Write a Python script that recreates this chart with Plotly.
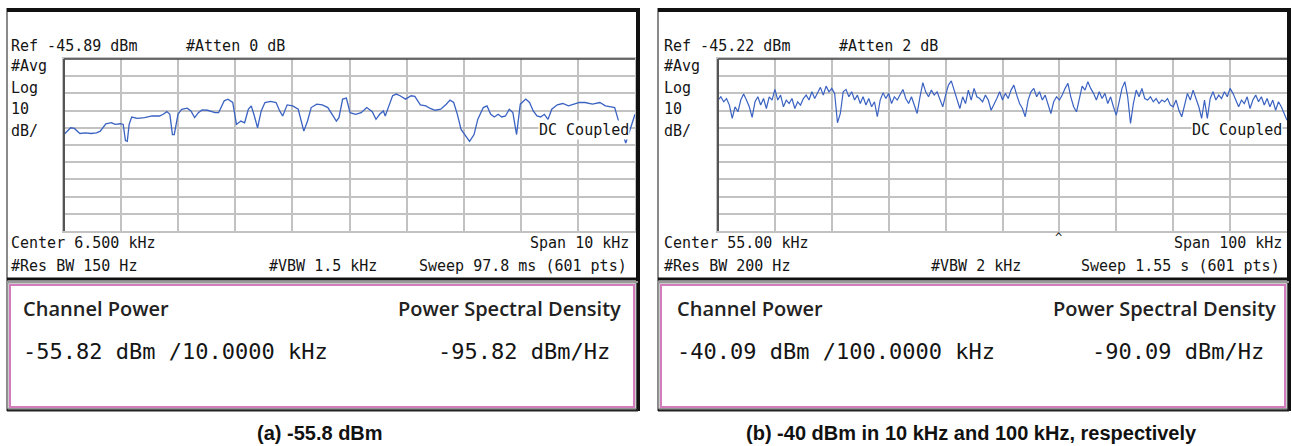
import numpy as np
import plotly.graph_objects as go

W, H = 1291, 446

# ---------------- Panel (a) data: 10 kHz span, centre 6.5 kHz ----------------
ref_a = -45.89
freq_a = [1.500, 1.617, 1.681, 1.779, 1.876, 1.973, 2.070, 2.135, 2.232, 2.330,
          2.394, 2.492, 2.537, 2.576, 2.608, 2.641, 2.686, 2.783, 2.913, 3.043,
          3.172, 3.237, 3.302, 3.354, 3.399, 3.431, 3.496, 3.561, 3.658, 3.723,
          3.788, 3.853, 3.917, 4.015, 4.144, 4.209, 4.306, 4.371, 4.455, 4.520,
          4.598, 4.663, 4.728, 4.779, 4.825, 4.890, 4.954, 5.019, 5.117, 5.214,
          5.278, 5.330, 5.408, 5.505, 5.602, 5.700, 5.765, 5.829, 5.927, 6.024,
          6.121, 6.218, 6.270, 6.315, 6.380, 6.445, 6.510, 6.607, 6.704, 6.802,
          6.899, 6.964, 7.028, 7.093, 7.126, 7.190, 7.255, 7.320, 7.385, 7.482,
          7.579, 7.644, 7.741, 7.838, 7.903, 8.000, 8.098, 8.195, 8.260, 8.325,
          8.389, 8.454, 8.519, 8.603, 8.681, 8.746, 8.843, 8.908, 8.973, 9.037,
          9.102, 9.167, 9.232, 9.297, 9.361, 9.426, 9.491, 9.588, 9.653, 9.718,
          9.783, 9.847, 9.912, 9.977, 10.042, 10.139, 10.236, 10.334, 10.431, 10.528,
          10.625, 10.755, 10.884, 10.982, 11.079, 11.144, 11.209, 11.338, 11.500]
level_a = [-89.80, -85.88, -86.27, -89.21, -88.82, -89.21, -88.82, -87.84, -83.53, -82.94,
           -83.92, -83.53, -83.92, -93.33, -93.72, -83.92, -79.61, -80.39, -80.00, -79.02,
           -79.02, -78.04, -76.47, -78.04, -89.80, -89.80, -78.04, -75.10, -74.51, -76.08,
           -80.00, -77.06, -75.49, -75.69, -77.06, -77.06, -70.20, -69.22, -71.18, -83.92,
           -81.96, -82.94, -75.10, -73.14, -78.04, -85.88, -76.08, -71.18, -70.59, -71.18,
           -76.08, -79.02, -72.55, -73.14, -75.10, -87.84, -81.96, -74.12, -72.16, -72.55,
           -74.12, -79.02, -81.96, -80.00, -69.22, -68.63, -77.06, -78.04, -77.06, -74.12,
           -76.47, -80.98, -78.04, -76.08, -79.02, -73.14, -67.26, -66.28, -67.26, -69.22,
           -67.26, -67.65, -72.55, -73.14, -74.51, -75.69, -75.10, -72.16, -69.81, -71.18,
           -78.04, -86.86, -89.80, -93.72, -89.80, -80.98, -74.12, -73.14, -78.04, -79.61,
           -78.04, -79.61, -79.02, -75.10, -77.06, -89.80, -72.16, -69.22, -71.18, -76.08,
           -79.02, -79.61, -78.04, -80.98, -75.10, -72.55, -71.77, -73.14, -72.16, -71.18,
           -71.18, -72.16, -71.18, -73.14, -73.73, -74.12, -81.57, -94.70, -78.04]

# ---------------- Panel (b) data: 100 kHz span, centre 55 kHz ----------------
ref_b = -45.22
level_b = [-69.1, -67.2, -70.1, -68.2, -72.0, -79.8, -73.0, -75.9, -69.1, -65.6,
           -69.1, -73.0, -79.2, -70.1, -67.2, -72.0, -68.2, -74.0, -67.2, -69.1,
           -62.9, -69.1, -66.2, -73.0, -69.1, -71.1, -68.2, -74.0, -70.1, -72.0,
           -68.2, -66.2, -69.1, -64.3, -68.2, -65.2, -61.7, -66.2, -61.0, -64.3,
           -62.3, -65.2, -82.3, -76.9, -64.3, -62.9, -67.2, -64.3, -69.1, -66.2,
           -71.1, -67.2, -72.0, -68.2, -73.0, -70.1, -78.8, -69.1, -64.9, -68.2,
           -65.2, -71.1, -67.2, -69.1, -66.2, -62.9, -68.2, -71.1, -67.2, -72.0,
           -76.9, -67.2, -59.0, -64.3, -67.2, -63.3, -66.2, -64.3, -68.2, -73.0,
           -66.2, -60.4, -57.9, -63.3, -69.1, -74.0, -67.2, -71.1, -63.3, -69.1,
           -62.3, -67.2, -68.2, -70.1, -66.2, -69.1, -75.0, -72.0, -68.2, -64.3,
           -69.1, -65.2, -68.2, -63.3, -60.4, -66.2, -71.1, -74.0, -78.8, -69.1,
           -64.3, -62.3, -67.2, -64.3, -69.1, -66.2, -71.1, -76.9, -70.1, -67.2,
           -69.1, -66.2, -62.3, -59.4, -67.2, -73.0, -75.9, -69.1, -61.0, -63.3,
           -58.4, -62.3, -65.2, -69.1, -64.3, -68.2, -65.2, -71.1, -67.2, -73.0,
           -77.9, -70.1, -62.3, -58.4, -67.2, -82.7, -71.1, -63.3, -67.2, -62.3,
           -68.2, -69.1, -67.2, -70.1, -68.2, -71.1, -69.1, -70.1, -68.2, -72.0,
           -73.0, -69.1, -75.0, -78.8, -71.1, -65.2, -69.1, -63.3, -68.2, -73.0,
           -79.8, -69.1, -79.8, -68.2, -64.3, -69.1, -66.2, -68.2, -64.3, -67.2,
           -62.3, -65.2, -69.1, -73.0, -69.1, -71.1, -67.2, -74.0, -69.1, -66.2,
           -70.1, -67.2, -72.0, -68.2, -73.0, -69.1, -75.0, -70.1, -73.0, -76.9, -80.8]
freq_b = np.linspace(5, 105, len(level_b))

# ---------------- Text ----------------
ref_text = ["Ref -45.89 dBm", "Ref -45.22 dBm"]
atten_text = ["#Atten 0 dB", "#Atten 2 dB"]
scale_text = ["#Avg", "Log", "10", "dB/"]
center_text = ["Center 6.500 kHz", "Center 55.00 kHz"]
span_text = ["Span 10 kHz", "Span 100 kHz"]
rbw_text = ["#Res BW 150 Hz", "#Res BW 200 Hz"]
vbw_text = ["#VBW 1.5 kHz", "#VBW 2 kHz"]
sweep_text = ["Sweep 97.8 ms (601 pts)", "Sweep 1.55 s (601 pts)"]
chan_power = ["-55.82 dBm /10.0000 kHz", "-40.09 dBm /100.0000 kHz"]
psd = ["-95.82 dBm/Hz", "-90.09 dBm/Hz"]
captions = ["(a) -55.8 dBm", "(b) -40 dBm in 10 kHz and 100 kHz, respectively"]

BLUE = "#3a62c2"
GRID = "#c2c2c2"
MONO = "DejaVu Sans Mono, Liberation Mono, monospace"
SANS = "Open Sans, Noto Sans, sans-serif"
CAP = "Arial, Liberation Sans, sans-serif"
PINK = "#d27cbc"


def px(x):
    return x / W


def py(y):
    return 1 - y / H


fig = go.Figure()
fig.add_trace(go.Scatter(x=freq_a, y=level_a, xaxis="x", yaxis="y", mode="lines",
                         line=dict(color=BLUE, width=1.3), hoverinfo="skip"))
fig.add_trace(go.Scatter(x=freq_b, y=level_b, xaxis="x2", yaxis="y2", mode="lines",
                         line=dict(color=BLUE, width=1.2), hoverinfo="skip"))

ax = dict(showgrid=True, gridcolor=GRID, gridwidth=1.5, showticklabels=False, ticks="",
          zeroline=False, showline=True, linecolor=GRID, linewidth=1.5, mirror=True,
          fixedrange=True)

fig.update_layout(
    width=W, height=H, margin=dict(l=0, r=0, t=0, b=0),
    paper_bgcolor="white", plot_bgcolor="white", showlegend=False,
    xaxis=dict(ax, domain=[px(64), px(635)], range=[1.5, 11.5], tick0=1.5, dtick=1, anchor="y"),
    yaxis=dict(ax, domain=[py(231), py(59)], range=[ref_a - 100, ref_a], tick0=ref_a, dtick=10, anchor="x"),
    xaxis2=dict(ax, domain=[px(718), px(1287)], range=[5, 105], tick0=5, dtick=10, anchor="y2"),
    yaxis2=dict(ax, domain=[py(231), py(59)], range=[ref_b - 100, ref_b], tick0=ref_b, dtick=10, anchor="x2"),
)

shapes = []


def line(x0, y0, x1, y1, color, width):
    shapes.append(dict(type="line", xref="paper", yref="paper", x0=px(x0), y0=py(y0),
                       x1=px(x1), y1=py(y1), line=dict(color=color, width=width), layer="above"))


def rect(x0, y0, x1, y1, color, width, fill=None):
    shapes.append(dict(type="rect", xref="paper", yref="paper", x0=px(x0), y0=py(y0),
                       x1=px(x1), y1=py(y1), line=dict(color=color, width=width),
                       fillcolor=fill if fill else "rgba(0,0,0,0)", layer="above"))


panels = [dict(L=7, R=638, pl=64, pr=635, tx=10, atten=185, vbw=268, rtx=630, sweep=628,
               bx=22, psdr=622, bigr=611, cap=320),
          dict(L=658, R=1289, pl=718, pr=1287, tx=663, atten=838, vbw=930, rtx=1283, sweep=1281,
               bx=676, psdr=1277, bigr=1265, cap=972)]

for p in panels:
    L, R = p["L"], p["R"]
    # instrument screen frame
    line(L, 8, L, 411, "#8a8a8a", 2)
    line(L, 10, R, 10, "#111111", 4)
    line(R, 8, R, 411, "#111111", 4)
    line(L, 279, R, 279, "#111111", 3)
    line(L, 282, R, 282, "#9a9a9a", 2)
    line(L, 410, R, 410, "#222222", 3)
    # channel power box
    rect(L + 3, 285, R - 4, 407, PINK, 2)
    rect(L + 1, 283, R - 2, 409, "#9a9a9a", 1)
    # graticule borders
    line(p["pl"], 59, p["pr"], 59, "#444444", 1.5)
    line(p["pl"], 59, p["pl"], 231, "#555555", 2)

fig.update_layout(shapes=shapes)


def txt(x, y, s, size=15, anchor="left", family=MONO, color="#141414", bg=None, weight="normal"):
    fig.add_annotation(x=px(x), y=py(y), xref="paper", yref="paper", text=s, showarrow=False,
                       xanchor=anchor, yanchor="middle", borderpad=0,
                       bgcolor=bg if bg else "rgba(0,0,0,0)",
                       font=dict(family=family, size=size, color=color, weight=weight))


for i, p in enumerate(panels):
    txt(p["tx"], 46, ref_text[i])
    txt(p["atten"], 46, atten_text[i])
    for s, yy in zip(scale_text, [66, 88, 109, 131]):
        txt(p["tx"], yy, s)
    txt(p["rtx"], 130, "DC Coupled", anchor="right", bg="white")
    txt(p["tx"], 243, center_text[i])
    txt(p["rtx"], 243, span_text[i], anchor="right")
    txt(p["tx"], 266, rbw_text[i])
    txt(p["vbw"], 266, vbw_text[i])
    txt(p["sweep"], 266, sweep_text[i], anchor="right")
    txt(p["bx"], 308, "Channel Power", size=20, family=SANS, color="#222222", weight=600)
    txt(p["psdr"], 308, "Power Spectral Density", size=20, anchor="right", family=SANS,
        color="#222222", weight=600)
    txt(p["bx"], 351, chan_power[i], size=22)
    txt(p["bigr"], 351, psd[i], size=22, anchor="right")
    txt(p["cap"], 433, captions[i], size=20, anchor="center", family=CAP, color="#111111",
        weight="bold")

txt(1058, 238, "^", size=12, anchor="center")

fig.write_html("out.html", config={"displayModeBar": False},
               post_script="document.body.style.margin='0px';document.body.style.overflow='hidden';")
